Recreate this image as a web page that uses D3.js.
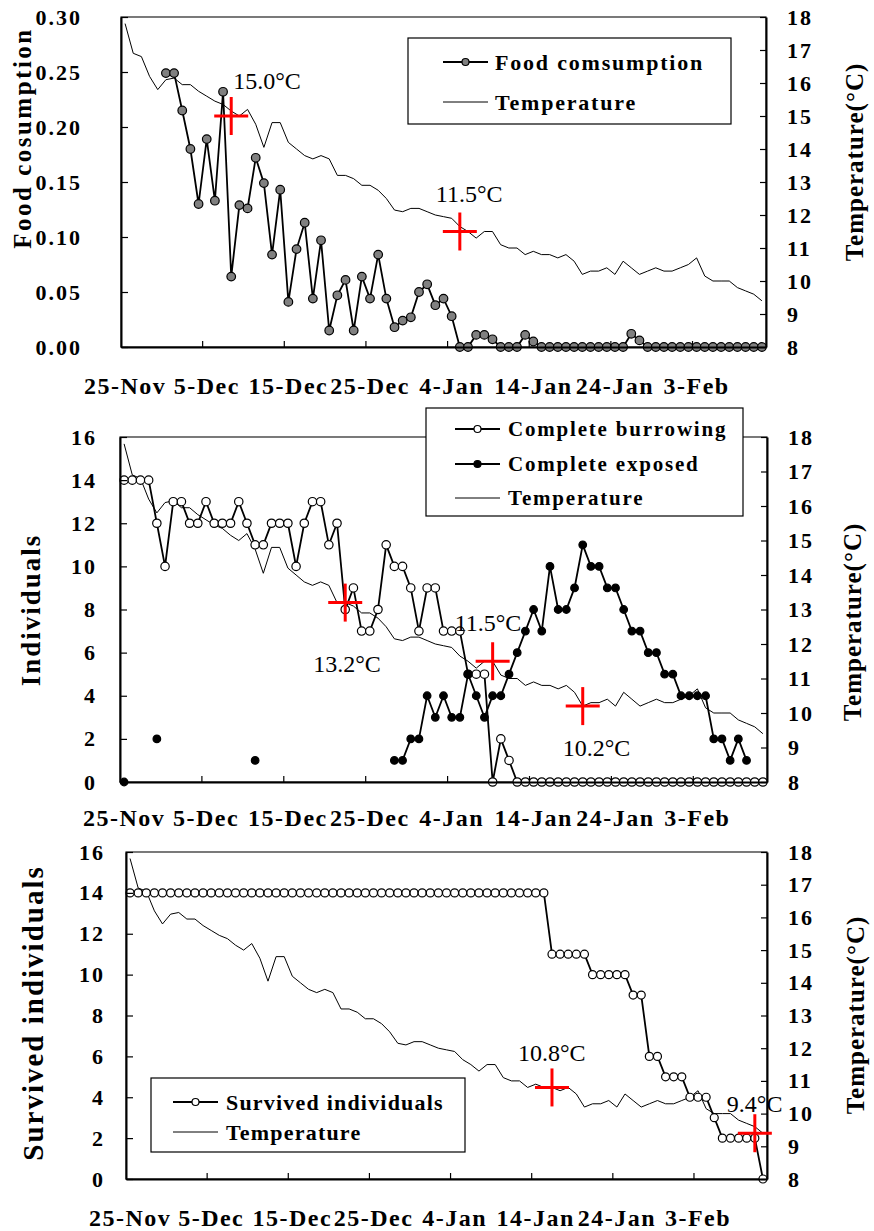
<!DOCTYPE html>
<html>
<head>
<meta charset="utf-8">
<script src="https://cdn.jsdelivr.net/npm/d3@7"></script>
<style>
  body { margin: 0; background: #fff; }
  text { font-family: "Liberation Serif", "Times New Roman", serif; fill: #000; }
</style>
</head>
<body>
<svg id="chart" width="874" height="1231"></svg>
<script>
// one category per day, 25-Nov .. 11-Feb
var startDay = new Date(2008, 10, 25);
var dayFormat = d3.timeFormat("%-d-%b");
var categories = d3.range(79).map(function(i) { return dayFormat(d3.timeDay.offset(startDay, i)); });

var tickLabels = ["25-Nov", "5-Dec", "15-Dec", "25-Dec", "4-Jan", "14-Jan", "24-Jan", "3-Feb"];
var foodTicks = [0, 0.05, 0.10, 0.15, 0.20, 0.25, 0.30];
var countTicks = [0, 2, 4, 6, 8, 10, 12, 14, 16];
var tempTicks = [8, 9, 10, 11, 12, 13, 14, 15, 16, 17, 18];

var temperature = [17.8, 16.9, 16.8, 16.2, 15.8, 16.1, 16.15, 15.95, 15.95, 15.75,
  15.6, 15.45, 15.35, 15.15, 15.0, 15.2, 14.75, 14.05, 14.8, 14.8,
  14.2, 14.0, 13.8, 13.7, 13.8, 13.7, 13.2, 13.2, 13.1, 12.9,
  12.9, 12.75, 12.5, 12.15, 12.1, 12.2, 12.2, 12.1, 12.0, 11.95,
  11.9, 11.65, 11.5, 11.3, 11.5, 11.5, 11.1, 11.0, 11.0, 10.8,
  10.9, 10.8, 10.8, 10.7, 10.8, 10.6, 10.2, 10.3, 10.3, 10.4,
  10.2, 10.6, 10.4, 10.2, 10.3, 10.4, 10.3, 10.3, 10.4, 10.5,
  10.7, 10.15, 10.0, 10.0, 10.0, 9.8, 9.7, 9.6, 9.4];

var foodConsumption = [null, null, null, null, null, 0.249, 0.249, 0.215, 0.180, 0.130,
  0.189, 0.133, 0.232, 0.064, 0.129, 0.126, 0.172, 0.149, 0.084, 0.143,
  0.041, 0.089, 0.113, 0.044, 0.097, 0.015, 0.047, 0.061, 0.015, 0.064,
  0.044, 0.084, 0.044, 0.018, 0.024, 0.027, 0.050, 0.057, 0.038, 0.044,
  0.028, 0, 0, 0.011, 0.011, 0.007, 0, 0, 0, 0.011,
  0.005, 0, 0, 0, 0, 0, 0, 0, 0, 0,
  0, 0, 0.012, 0.006, 0, 0, 0, 0, 0, 0,
  0, 0, 0, 0, 0, 0, 0, 0, 0];

var burrowing = [14, 14, 14, 14, 12, 10, 13, 13, 12, 12,
  13, 12, 12, 12, 13, 12, 11, 11, 12, 12,
  12, 10, 12, 13, 13, 11, 12, 8, 9, 7,
  7, 8, 11, 10, 10, 9, 7, 9, 9, 7,
  7, 7, 5, 5, 5, 0, 2, 1, 0, 0,
  0, 0, 0, 0, 0, 0, 0, 0, 0, 0,
  0, 0, 0, 0, 0, 0, 0, 0, 0, 0,
  0, 0, 0, 0, 0, 0, 0, 0, 0];

var exposed = [0, null, null, null, 2, null, null, null, null, null,
  null, null, null, null, null, null, 1, null, null, null,
  null, null, null, null, null, null, null, null, null, null,
  null, null, null, 1, 1, 2, 2, 4, 3, 4,
  3, 3, 5, 4, 3, 4, 4, 5, 6, 7,
  8, 7, 10, 8, 8, 9, 11, 10, 10, 9,
  9, 8, 7, 7, 6, 6, 5, 5, 4, 4,
  4, 4, 2, 2, 1, 2, 1, null, null];

var survived = [14, 14, 14, 14, 14, 14, 14, 14, 14, 14,
  14, 14, 14, 14, 14, 14, 14, 14, 14, 14,
  14, 14, 14, 14, 14, 14, 14, 14, 14, 14,
  14, 14, 14, 14, 14, 14, 14, 14, 14, 14,
  14, 14, 14, 14, 14, 14, 14, 14, 14, 14,
  14, 14, 11, 11, 11, 11, 11, 10, 10, 10,
  10, 10, 9, 9, 6, 6, 5, 5, 5, 4,
  4, 4, 3, 2, 2, 2, 2, 2, 0];

// red crosses: day and temperature
var foodMarks = [{ day: "8-Dec", temp: 15.0 }, { day: "5-Jan", temp: 11.5 }];
var burrowMarks = [{ day: "22-Dec", temp: 13.2 }, { day: "9-Jan", temp: 11.5 }, { day: "20-Jan", temp: 10.2 }];
var surviveMarks = [{ day: "16-Jan", temp: 10.8 }, { day: "10-Feb", temp: 9.4 }];

var svg = d3.select("#chart");

function boldText(sel, size, spacing) {
  sel.style("font-size", size + "px").style("font-weight", "bold").style("letter-spacing", spacing + "px");
}

function drawPanel(p) {
  var g = svg.append("g");

  var x = d3.scaleBand().domain(categories).range([p.left, p.right]);
  var xMid = function(i) { return x(categories[i]) + x.bandwidth() / 2; };
  var yL = d3.scaleLinear().domain(p.leftDomain).range([p.bottom, p.top]);
  var yR = d3.scaleLinear().domain([8, 18]).range([p.bottom, p.top]);

  g.append("rect")
    .attr("x", p.left).attr("y", p.top)
    .attr("width", p.right - p.left).attr("height", p.bottom - p.top)
    .attr("fill", "none").attr("stroke", "#222").attr("stroke-width", 1.2);

  // temperature on the right axis
  var tempLine = d3.line()
    .x(function(d, i) { return xMid(i); })
    .y(function(d) { return yR(d); });
  g.append("path").datum(temperature)
    .attr("d", tempLine)
    .attr("fill", "none").attr("stroke", "#000").attr("stroke-width", 1);

  p.series.forEach(function(s) {
    var line = d3.line()
      .defined(function(d) { return d !== null; })
      .x(function(d, i) { return xMid(i); })
      .y(function(d) { return yL(d); });
    g.append("path").datum(s.values)
      .attr("d", line)
      .attr("fill", "none").attr("stroke", "#000").attr("stroke-width", 1.8);
    var pts = s.values.map(function(v, i) { return { v: v, i: i }; })
      .filter(function(d) { return d.v !== null; });
    g.selectAll(null).data(pts).enter().append("circle")
      .attr("cx", function(d) { return xMid(d.i); })
      .attr("cy", function(d) { return yL(d.v); })
      .attr("r", s.r)
      .attr("fill", s.fill)
      .attr("stroke", "#000").attr("stroke-width", 1.2);
  });

  // x axis: labels centred on the category, ticks between categories
  var xAxis = d3.axisBottom(x).tickValues(tickLabels).tickSize(0);
  var gx = g.append("g").attr("transform", "translate(0," + p.bottom + ")").call(xAxis);
  gx.select(".domain").attr("stroke", "#000").attr("stroke-width", 2);
  gx.selectAll("text")
    .attr("y", p.xLabelY - p.bottom).attr("dy", "0.35em")
    .call(boldText, 24, 1.5);
  g.selectAll(null).data(d3.range(10, categories.length, 10)).enter().append("line")
    .attr("x1", function(i) { return x(categories[i]); })
    .attr("x2", function(i) { return x(categories[i]); })
    .attr("y1", p.bottom).attr("y2", p.bottom - 6)
    .attr("stroke", "#000").attr("stroke-width", 1.2);

  var yAxisL = d3.axisLeft(yL).tickValues(p.leftTicks).tickFormat(p.leftFormat)
    .tickSizeInner(-7).tickSizeOuter(0).tickPadding(p.leftPad);
  var gl = g.append("g").attr("transform", "translate(" + p.left + ",0)").call(yAxisL);
  gl.select(".domain").attr("stroke", "#000").attr("stroke-width", 2);
  gl.selectAll("line").attr("stroke", "#000").attr("stroke-width", 1.2);
  gl.selectAll("text").call(boldText, 22, 2);

  var yAxisR = d3.axisRight(yR).tickValues(tempTicks)
    .tickSizeInner(-6).tickSizeOuter(0).tickPadding(p.rightPad);
  var gr = g.append("g").attr("transform", "translate(" + p.right + ",0)").call(yAxisR);
  gr.select(".domain").attr("stroke", "#000").attr("stroke-width", 2);
  gr.selectAll("line").attr("stroke", "#000").attr("stroke-width", 1.2);
  gr.selectAll("text").call(boldText, 22, 2);

  // axis titles
  g.append("text")
    .attr("transform", "translate(" + p.leftTitle.x + "," + p.leftTitle.y + ") rotate(-90)")
    .attr("text-anchor", "middle").attr("dy", "0.35em")
    .text(p.leftTitle.text)
    .call(boldText, p.leftTitle.size, p.leftTitle.spacing);
  g.append("text")
    .attr("transform", "translate(" + p.rightTitle.x + "," + p.rightTitle.y + ") rotate(-90)")
    .attr("text-anchor", "middle").attr("dy", "0.35em")
    .text("Temperature(°C)")
    .call(boldText, 25, 1);

  // legend
  var lg = p.legend;
  g.append("rect")
    .attr("x", lg.x).attr("y", lg.y).attr("width", lg.w).attr("height", lg.h)
    .attr("fill", "#fff").attr("stroke", "#000").attr("stroke-width", 1.2);
  lg.rows.forEach(function(row, k) {
    var ry = lg.rowY[k];
    g.append("line")
      .attr("x1", lg.lineX[0]).attr("x2", lg.lineX[1])
      .attr("y1", ry).attr("y2", ry)
      .attr("stroke", "#000").attr("stroke-width", row.fill ? 1.8 : 1);
    if (row.fill) {
      g.append("circle")
        .attr("cx", (lg.lineX[0] + lg.lineX[1]) / 2).attr("cy", ry).attr("r", 3.5)
        .attr("fill", row.fill).attr("stroke", "#000").attr("stroke-width", 1.2);
    }
    g.append("text")
      .attr("x", lg.textX).attr("y", ry).attr("dy", "0.35em")
      .text(row.label)
      .call(boldText, lg.size, lg.spacing);
  });

  // red crosses at the critical temperatures
  p.marks.forEach(function(m, k) {
    var mx = xMid(categories.indexOf(m.day));
    var my = yR(m.temp);
    g.append("line").attr("x1", mx - 17).attr("x2", mx + 17).attr("y1", my).attr("y2", my)
      .attr("stroke", "#ff0000").attr("stroke-width", 3);
    g.append("line").attr("x1", mx).attr("x2", mx).attr("y1", my - 19).attr("y2", my + 19)
      .attr("stroke", "#ff0000").attr("stroke-width", 3);
    g.append("text")
      .attr("x", mx + p.markLabels[k][0]).attr("y", my + p.markLabels[k][1]).attr("dy", "0.35em")
      .style("font-size", "24px")
      .text(m.temp.toFixed(1) + "°C");
  });
}

drawPanel({
  left: 121, right: 766, top: 17, bottom: 347,
  leftDomain: [0, 0.30], leftTicks: foodTicks, leftFormat: d3.format(".2f"),
  leftPad: 39, rightPad: 21, xLabelY: 386,
  leftTitle: { text: "Food cosumption", x: 22, y: 138, size: 25, spacing: 2.5 },
  rightTitle: { x: 854, y: 162 },
  series: [{ values: foodConsumption, r: 4.3, fill: "#808080" }],
  legend: {
    x: 408, y: 38, w: 323, h: 86, lineX: [443, 488], textX: 495, size: 22, spacing: 1.8,
    rowY: [62, 102],
    rows: [{ label: "Food comsumption", fill: "#808080" }, { label: "Temperature", fill: null }]
  },
  marks: foodMarks,
  markLabels: [[2, -35], [-24, -38]]
});

drawPanel({
  left: 120, right: 767, top: 437, bottom: 782,
  leftDomain: [0, 16], leftTicks: countTicks, leftFormat: d3.format("d"),
  leftPad: 23, rightPad: 21, xLabelY: 818,
  leftTitle: { text: "Individuals", x: 31, y: 610, size: 27, spacing: 2 },
  rightTitle: { x: 852, y: 622 },
  series: [{ values: burrowing, r: 4.2, fill: "#fff" }, { values: exposed, r: 3.8, fill: "#000" }],
  legend: {
    x: 426, y: 408, w: 317, h: 108, lineX: [455, 500], textX: 508, size: 21, spacing: 1.8,
    rowY: [429, 464, 498],
    rows: [{ label: "Complete burrowing", fill: "#fff" }, { label: "Complete exposed", fill: "#000" },
      { label: "Temperature", fill: null }]
  },
  marks: burrowMarks,
  markLabels: [[-32, 61], [-38, -39], [-20, 41]]
});

drawPanel({
  left: 126, right: 767, top: 852, bottom: 1179,
  leftDomain: [0, 16], leftTicks: countTicks, leftFormat: d3.format("d"),
  leftPad: 21, rightPad: 21, xLabelY: 1218,
  leftTitle: { text: "Survived individuals", x: 33, y: 1013, size: 29, spacing: 2 },
  rightTitle: { x: 855, y: 1015 },
  series: [{ values: survived, r: 4, fill: "#fff" }],
  legend: {
    x: 151, y: 1078, w: 314, h: 74, lineX: [173, 218], textX: 226, size: 22, spacing: 1.2,
    rowY: [1102, 1132],
    rows: [{ label: "Survived individuals", fill: "#fff" }, { label: "Temperature", fill: null }]
  },
  marks: surviveMarks,
  markLabels: [[-34, -35], [-28, -30]]
});
</script>
</body>
</html>
